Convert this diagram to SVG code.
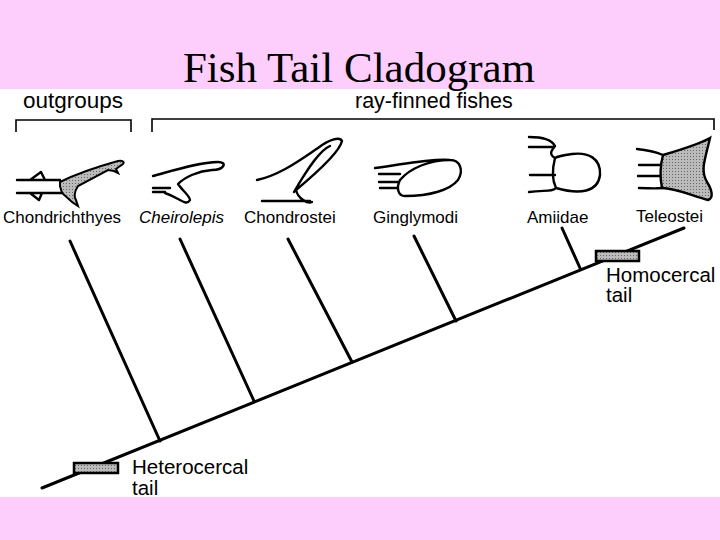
<svg xmlns="http://www.w3.org/2000/svg" width="720" height="540" viewBox="0 0 720 540">
<defs>
<pattern id="dots" width="3" height="3" patternUnits="userSpaceOnUse"><rect width="3" height="3" fill="#bbb"/><rect width="1" height="1" fill="#666"/></pattern>
</defs>
<style>
.s{font-family:"Liberation Sans",Arial,sans-serif;fill:#000}
.f{fill:none;stroke:#000;stroke-width:2.4;stroke-linecap:round;stroke-linejoin:round}
.br{fill:none;stroke:#000;stroke-width:1.6}
.ln{stroke:#000;stroke-width:3;stroke-linecap:round}
.bar{fill:url(#dots);stroke:#000;stroke-width:2.5}
</style>
<rect width="720" height="540" fill="#fff"/>
<rect width="720" height="89" fill="#fdcdfb"/>
<rect y="497" width="720" height="43" fill="#fdcdfb"/>
<text x="359" y="82" font-family="Liberation Serif,serif" font-size="43" text-anchor="middle">Fish Tail Cladogram</text>
<text class="s" x="23" y="108" font-size="22.5">outgroups</text>
<text class="s" x="355" y="108" font-size="21.5">ray-finned fishes</text>
<path class="br" d="M16,132 V120 H131 V132"/>
<path class="br" d="M152,132 V119 H714 V130"/>
<g id="chondrichthyes">
<path d="M60,182 C80,172 100,166 118,161 C124,160 126,163 120,166 L116,169 L118,173 L114,171 L108,170 L78,186 C74,192 74,198 76,200 L78,206 L72,202 L62,193 L60,186 Z" fill="url(#dots)" stroke="#000" stroke-width="2"/>
<path class="f" d="M17,180 H60 M17,193 H62 M30,180 L41,172 L45,180 M30,193 L39,200 L42,193"/>
<text class="s" x="3" y="223" font-size="17">Chondrichthyes</text>
</g>
<g id="cheirolepis">
<path class="f" d="M153,176 C175,170 200,162 218,162 C228,162 224,170 212,170 C198,171 185,177 178,184 C182,190 190,196 190,200 C186,207 180,198 165,193 M153,188 H170 M153,192 H165"/>
<text class="s" x="139" y="223" font-style="italic" font-size="17">Cheirolepis</text>
</g>
<g id="chondrostei">
<path class="f" d="M257,180 C280,175 300,160 318,148 C328,140 340,136 342,141 C340,150 320,170 296,190 C298,199 308,204 312,202 M262,201 H310 M330,146 C320,150 308,168 294,192"/>
<text class="s" x="244" y="223" font-size="17">Chondrostei</text>
</g>
<g id="ginglymodi">
<path class="f" d="M375,168 C400,165 430,158 450,160 C460,160 464,170 458,180 C450,190 430,196 405,196 C398,196 396,188 400,180 C410,168 430,160 450,160 M379,174 H400 M379,182 H399 M380,188 H398"/>
<text class="s" x="373" y="223" font-size="17">Ginglymodi</text>
</g>
<g id="amiidae">
<path class="f" d="M529,137 C545,137 552,140 555,146 C552,150 548,154 555,158 C552,170 552,180 556,188 C580,195 598,192 600,175 C601,158 588,152 572,154 C565,155 558,156 555,158 M529,147 H553 M530,175 H555 M529,192 C545,190 552,192 556,188"/>
<text class="s" x="527" y="223" font-size="17">Amiidae</text>
</g>
<g id="teleostei">
<path d="M663,155 C680,150 700,144 710,138 C705,160 700,170 707,182 C712,190 714,198 708,200 C690,195 675,188 662,188 C660,178 660,166 663,155 Z" fill="url(#dots)" stroke="#000" stroke-width="2.4"/>
<path class="f" d="M637,149 C648,150 656,152 663,155 M639,165 H660 M638,176 H660 M639,188 C648,188 654,189 662,188"/>
<text class="s" x="636" y="222" font-size="17">Teleostei</text>
</g>
<g id="connectors">
<line class="ln" x1="42" y1="488" x2="684" y2="228"/>
<line class="ln" x1="70" y1="241" x2="160" y2="441"/>
<line class="ln" x1="180" y1="239" x2="254" y2="401"/>
<line class="ln" x1="288" y1="239" x2="352" y2="362"/>
<line class="ln" x1="414" y1="236" x2="456" y2="321"/>
<line class="ln" x1="562" y1="228" x2="580" y2="268"/>
</g>
<g id="homocercal">
<rect class="bar" x="596" y="251" width="43" height="10"/>
<text class="s" x="606" y="282" font-size="20.5">Homocercal</text>
<text class="s" x="606" y="302" font-size="20.5">tail</text>
</g>
<g id="heterocercal">
<rect class="bar" x="74" y="463" width="44" height="10"/>
<text class="s" x="132" y="474" font-size="20.5">Heterocercal</text>
<text class="s" x="132" y="495" font-size="20.5">tail</text>
</g>
</svg>
